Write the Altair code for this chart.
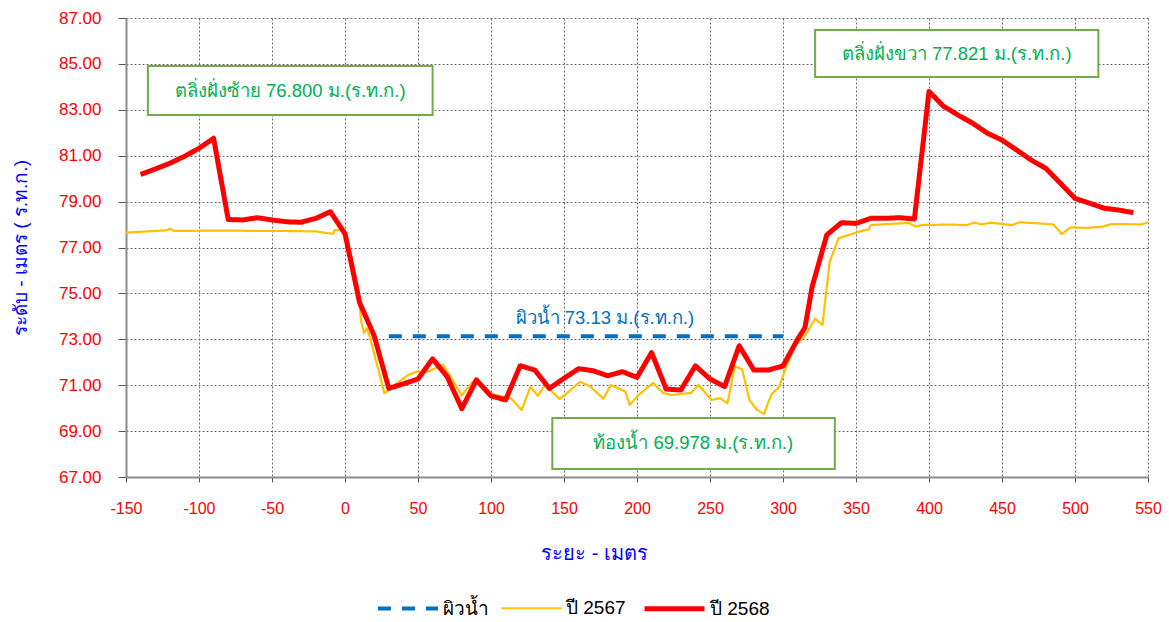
import altair as alt
import pandas as pd

# ---------------- data ----------------
series_names = ["ผิวน้ำ", "ปี 2567", "ปี 2568"]

x_water = [30, 300]
y_water = [73.13, 73.13]

x_2567 = [-150, -130, -122, -120, -117, -100, -80, -60, -40, -20, -8, -7, -2, 1, 5, 9, 11, 13, 15, 17,
          27, 30, 37, 43, 49, 57, 67, 72, 80, 87, 91, 97, 103, 108, 113, 116, 121, 127, 132, 137,
          147, 152, 161, 168, 177, 182, 192, 195, 201, 211, 218, 224, 230, 237, 242, 251, 257, 262,
          267, 272, 277, 282, 287, 292, 297.5, 301, 308, 315, 322, 327, 332, 338, 350, 359, 360,
          386, 391, 395, 414, 426, 431, 436, 442, 457, 462, 485, 491, 497, 508, 519, 525, 546, 550]
y_2567 = [77.65, 77.72, 77.75, 77.82, 77.72, 77.73, 77.74, 77.72, 77.72, 77.70, 77.59, 77.76, 77.76,
          77.55, 76.40, 75.20, 73.80, 73.28, 73.48, 73.10,
          70.65, 70.80, 71.15, 71.44, 71.59, 71.59, 71.90, 71.40, 70.55, 71.13, 71.23, 70.72, 70.57,
          70.50, 70.45, 70.28, 69.92, 70.93, 70.54, 71.00,
          70.40, 70.65, 71.15, 70.94, 70.41, 71.01, 70.72, 70.14, 70.57, 71.10, 70.65, 70.57, 70.62,
          70.66, 71.01, 70.36, 70.43, 70.22,
          71.82, 71.70, 70.36, 69.93, 69.75, 70.60, 70.94, 71.59, 72.70, 73.14, 73.90, 73.62, 76.38,
          77.40, 77.65, 77.80, 77.98,
          78.07, 77.91, 77.98, 78.00, 77.98, 78.08, 78.01, 78.08, 77.98, 78.10, 78.01, 77.59, 77.88,
          77.85, 77.91, 78.02, 78.01, 78.10]

x_2568 = [-140, -130, -120, -110, -100, -90, -80, -70, -60, -50, -40, -30, -20, -10, 0, 10, 20, 30,
          40, 50, 60, 70, 80, 90, 100, 110, 120, 130, 140, 150, 160, 170, 180, 190, 200, 210, 220,
          230, 240, 250, 260, 270, 280, 290, 300, 310, 315, 320, 330, 340, 350, 360, 370, 380, 390,
          400, 410, 420, 430, 440, 450, 460, 470, 480, 490, 500, 510, 520, 530, 540]
y_2568 = [80.18, 80.42, 80.67, 80.97, 81.32, 81.76, 78.22, 78.20, 78.30, 78.20, 78.12, 78.10, 78.27,
          78.56, 77.60, 74.60, 73.15, 70.86,
          71.06, 71.27, 72.15, 71.37, 69.98, 71.23, 70.53, 70.36, 71.85, 71.66, 70.86, 71.30, 71.72,
          71.63, 71.41, 71.59, 71.34, 72.42, 70.83,
          70.79, 71.84, 71.27, 70.94, 72.72, 71.66, 71.66, 71.84, 73.00, 73.50, 75.30, 77.55, 78.08,
          78.05, 78.27, 78.27, 78.30, 78.24,
          83.80, 83.15, 82.77, 82.41, 81.98, 81.68, 81.25, 80.81, 80.45, 79.80, 79.14, 78.93, 78.71,
          78.63, 78.52]

# annotation boxes (label text, data-space extents)
box_texts = ["ตลิ่งฝั่งซ้าย 76.800 ม.(ร.ท.ก.)", "ตลิ่งฝั่งขวา 77.821 ม.(ร.ท.ก.)", "ท้องน้ำ 69.978  ม.(ร.ท.ก.)"]
box_x1 = [-135, 322, 142]
box_x2 = [60, 516, 335.5]
box_y1 = [82.77, 84.43, 67.35]
box_y2 = [84.91, 86.48, 69.57]
box_tx = [-37.5, 419, 238.5]
box_ty = [83.84, 85.45, 68.46]

water_label = ["ผิวน้ำ 73.13 ม.(ร.ท.ก.)"]
water_lx = [178]
water_ly = [73.93]

# ---------------- build tables ----------------
rows = []
for name, xs, ys in [(series_names[0], x_water, y_water),
                     (series_names[1], x_2567, y_2567),
                     (series_names[2], x_2568, y_2568)]:
    for i, (a, b) in enumerate(zip(xs, ys)):
        rows.append({"series": name, "dist": a, "elev": b, "ord": i})
df = pd.DataFrame(rows)

boxes = pd.DataFrame({"t": box_texts, "x1": box_x1, "x2": box_x2, "y1": box_y1, "y2": box_y2,
                      "tx": box_tx, "ty": box_ty})
wl = pd.DataFrame({"t": water_label, "x": water_lx, "y": water_ly})

FONT = "Arial, Liberation Sans, Noto Sans, sans-serif"

xscale = alt.Scale(domain=[-150, 550], nice=False)
yscale = alt.Scale(domain=[67, 87], nice=False, zero=False)

lines = alt.Chart(df).mark_line(strokeJoin="round", clip=True).encode(
    x=alt.X("dist:Q", scale=xscale,
            axis=alt.Axis(values=list(range(-150, 551, 50)), title="ระยะ - เมตร",
                          labelExpr="'' + datum.value", labelFlush=False,
                          labelFontSize=16, tickSize=5, labelPadding=18,
                          titleFontSize=20, titlePadding=27, titleX=468)),
    y=alt.Y("elev:Q", scale=yscale,
            axis=alt.Axis(values=list(range(67, 88, 2)), format=".2f", title="ระดับ - เมตร ( ร.ท.ก.)",
                          labelFontSize=17, tickSize=8, labelPadding=17, labelFlush=False,
                          titleFontSize=19, titlePadding=28)),
    color=alt.Color("series:N", scale=alt.Scale(domain=series_names,
                                                range=["#0070C0", "#FFC000", "#FF0000"]),
                    legend=alt.Legend(title=None)),
    strokeDash=alt.StrokeDash("series:N", scale=alt.Scale(domain=series_names,
                                                          range=[[13, 11], [1, 0], [1, 0]]),
                              legend=alt.Legend(title=None)),
    strokeWidth=alt.StrokeWidth("series:N", scale=alt.Scale(type="ordinal", domain=series_names,
                                                            range=[4, 2.2, 5]),
                                legend=alt.Legend(title=None)),
    order="ord:Q",
)

rects = alt.Chart(boxes).mark_rect(fill="white", stroke="#70AD47", strokeWidth=2).encode(
    x="x1:Q", x2="x2", y="y1:Q", y2="y2"
)
rect_text = alt.Chart(boxes).mark_text(fontSize=18.5, color="#00B050", font=FONT).encode(
    x="tx:Q", y="ty:Q", text="t:N"
)
water_text = alt.Chart(wl).mark_text(fontSize=18.5, color="#0070C0", font=FONT).encode(
    x="x:Q", y="y:Q", text="t:N"
)

chart = alt.layer(lines, rects, rect_text, water_text).properties(
    width=1022, height=459,
    autosize=alt.AutoSizeParams(type="none"),
    padding={"left": 118, "top": 10, "right": 13, "bottom": 145},
).configure_view(stroke=None).configure_axis(
    gridColor="#6a6a6a", gridDash=[2, 2], gridWidth=1, gridOpacity=1,
    domainColor="#8c8c8c", domainWidth=2, tickColor="#555555",
    labelColor="#FF0000", labelFont=FONT, titleFont=FONT, titleColor="#0000FF",
    titleFontWeight="normal",
).configure_legend(
    orient="none", legendX=250, legendY=558, direction="horizontal",
    symbolType="stroke", symbolSize=3600, labelFontSize=19, labelFont=FONT,
    labelColor="#000000", columnPadding=8, labelOffset=3,
)

chart.save("out.html", embed_options={"renderer": "svg", "actions": False})
